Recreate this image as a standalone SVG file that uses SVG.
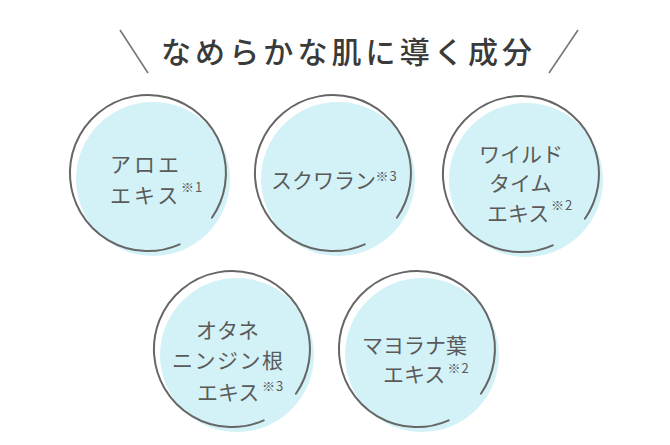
<svg xmlns="http://www.w3.org/2000/svg" width="670" height="445" viewBox="0 0 670 445">
<style>
.bg{fill:#d3f2f7}
.ring{fill:none;stroke:#666;stroke-width:2;stroke-linecap:round}
.t{font-family:"Noto Sans CJK JP","Noto Sans",sans-serif;font-size:21px;fill:#5a5a5a}
.s{font-family:"Noto Sans CJK JP","Noto Sans",sans-serif;font-size:13px;fill:#5a5a5a;letter-spacing:1px}
.title{font-family:"Noto Sans CJK JP","Noto Sans",sans-serif;font-size:30px;font-weight:500;fill:#3a3a3a;letter-spacing:4.1px}
.slash{stroke:#777;stroke-width:1.6}
</style>
<rect width="670" height="445" fill="#fff"/>
<g id="title">
<line class="slash" x1="120" y1="30" x2="148" y2="73"/>
<line class="slash" x1="578" y1="30" x2="549" y2="73"/>
<text class="title" x="161" y="63">なめらかな肌に導く成分</text>
</g>
<g id="node-aloe">
<circle class="bg" cx="153" cy="179" r="77"/>
<path class="ring" d="M179.7,244.3 A78,78 0 1 1 211.9,217.7"/>
<text class="t" x="110" y="172" letter-spacing="3">アロエ</text>
<text class="t" x="110" y="203" letter-spacing="3">エキス</text>
<text class="s" x="181" y="192">※1</text>
</g>
<g id="node-squalane">
<circle class="bg" cx="338" cy="179" r="77"/>
<path class="ring" d="M364.7,244.3 A78,78 0 1 1 396.9,217.7"/>
<text class="t" x="271" y="188" font-size="20.2">スクワラン</text>
<text class="s" x="375.5" y="181">※3</text>
</g>
<g id="node-thyme">
<circle class="bg" cx="526" cy="180" r="77"/>
<path class="ring" d="M552.7,245.3 A78,78 0 1 1 584.9,218.7"/>
<text class="t" x="479" y="162">ワイルド</text>
<text class="t" x="489" y="191">タイム</text>
<text class="t" x="487" y="221">エキス</text>
<text class="s" x="551" y="210">※2</text>
</g>
<g id="node-ginseng">
<circle class="bg" cx="237" cy="355" r="77"/>
<path class="ring" d="M263.7,420.3 A78,78 0 1 1 295.9,393.7"/>
<text class="t" x="196" y="338">オタネ</text>
<text class="t" x="172" y="368" letter-spacing="1.5">ニンジン根</text>
<text class="t" x="197" y="400">エキス</text>
<text class="s" x="262" y="391">※3</text>
</g>
<g id="node-marjoram">
<circle class="bg" cx="422" cy="355" r="77"/>
<path class="ring" d="M448.7,420.3 A78,78 0 1 1 480.9,393.7"/>
<text class="t" x="362" y="353">マヨラナ葉</text>
<text class="t" x="383" y="382">エキス</text>
<text class="s" x="447.5" y="373">※2</text>
</g>
<g id="connectors"/>
</svg>
